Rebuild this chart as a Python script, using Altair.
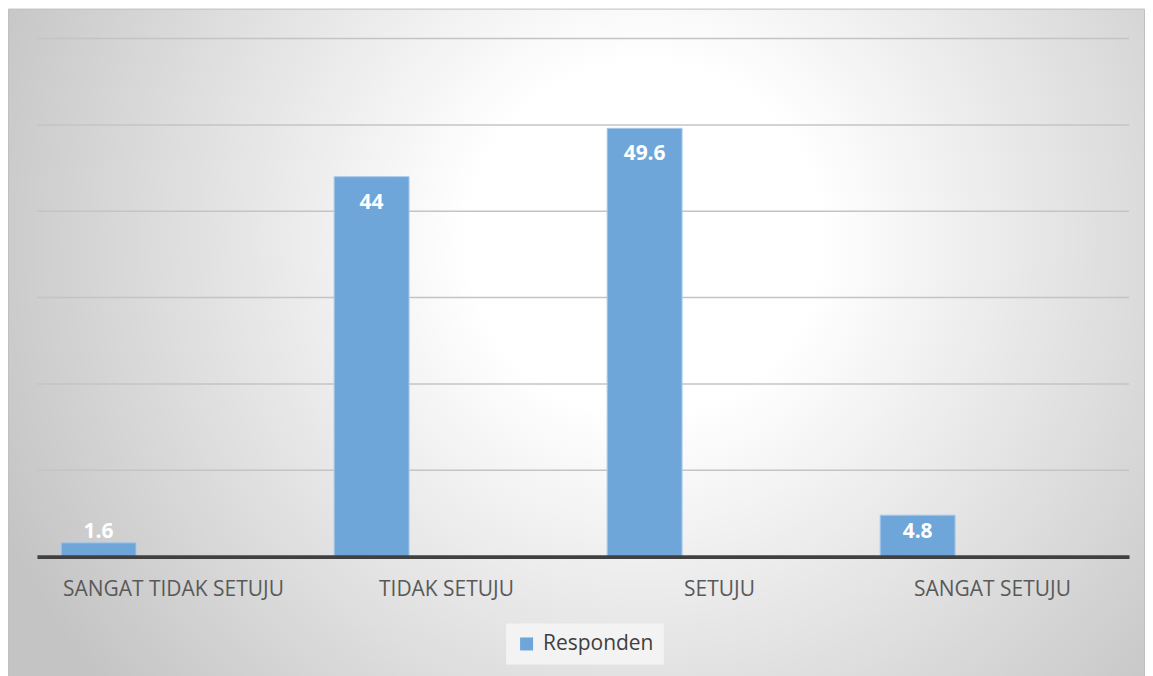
import altair as alt
import pandas as pd

categories = ["SANGAT TIDAK SETUJU", "TIDAK SETUJU", "SETUJU", "SANGAT SETUJU"]
values = [1.6, 44, 49.6, 4.8]
series_name = "Responden"
series_slots = ["Responden", "Seri 2", "Seri 3"]
grid_values = [10, 20, 30, 40, 50, 60]

df = pd.DataFrame({"kategori": categories, "nilai": values, "seri": [series_name] * len(categories)})
grid_df = pd.DataFrame({"g": grid_values})

W, H = 1094, 519
PL, PT, PR, PB = 29, 30, 16, 119

bg = alt.Chart(pd.DataFrame({"a": [0]})).mark_rect(
    fill=alt.Gradient(
        gradient="radial",
        stops=[alt.GradientStop(color="#ffffff", offset=0),
               alt.GradientStop(color="#ffffff", offset=0.25),
               alt.GradientStop(color="#c4c4c4", offset=1)],
        x1=0.56, y1=0.4, r1=0, x2=0.56, y2=0.4, r2=0.62,
    ),
    stroke="#c0c0c0", strokeWidth=1, clip=False,
).encode(
    x=alt.value(-PL + 0.5), x2=alt.value(W + PR - 0.5),
    y=alt.value(-PT + 0.5), y2=alt.value(H + PB + 20),
)

y_scale = alt.Scale(domain=[0, 60], nice=False)

grid = alt.Chart(grid_df).mark_rule(color="#c4c4c4", strokeWidth=1.5).encode(
    y=alt.Y("g:Q", scale=y_scale, axis=None),
)

x_enc = alt.X("kategori:N", sort=categories, title=None,
              scale=alt.Scale(paddingInner=0, paddingOuter=0),
              axis=alt.Axis(labelAngle=0, ticks=False, domain=True, domainColor="#404040",
                            domainWidth=4, labelFont="Open Sans", labelFontSize=21,
                            labelColor="#595959", labelPadding=22, labelLimit=0,
                            grid=False, zindex=1))

bars = alt.Chart(df).mark_bar(stroke="#a8c8ea", strokeWidth=1).encode(
    x=x_enc,
    xOffset=alt.XOffset("seri:N", scale=alt.Scale(domain=series_slots, paddingInner=0, paddingOuter=0.323)),
    y=alt.Y("nilai:Q", title=None, scale=y_scale, axis=None),
    color=alt.Color("seri:N", scale=alt.Scale(domain=[series_name], range=["#6fa6da"]),
                    legend=alt.Legend(title=None, orient="none", legendX=470, legendY=586,
                                      symbolType="square", symbolSize=170, symbolStrokeWidth=0,
                                      labelFont="Open Sans", labelFontSize=21, labelColor="#404040",
                                      fillColor="#f3f3f3", padding=10, labelOffset=6)),
)

labels = alt.Chart(df).transform_calculate(
    pos="max(datum.nilai - 3.0, 2.9)"
).mark_text(font="Open Sans", fontSize=21, fontWeight="bold", color="white", baseline="middle").encode(
    x=alt.X("kategori:N", sort=categories),
    xOffset=alt.XOffset("seri:N", scale=alt.Scale(domain=series_slots, paddingInner=0, paddingOuter=0.323)),
    y=alt.Y("pos:Q", scale=y_scale),
    text=alt.Text("nilai:Q"),
)

chart = alt.layer(bg, grid, bars, labels).properties(
    width=W, height=H,
    autosize=alt.AutoSizeParams(type="none"),
    padding={"left": PL, "top": PT, "right": PR, "bottom": PB},
).configure_view(stroke=None).configure(background="white")

chart.save("out.html", embed_options={"renderer": "svg", "actions": False})
